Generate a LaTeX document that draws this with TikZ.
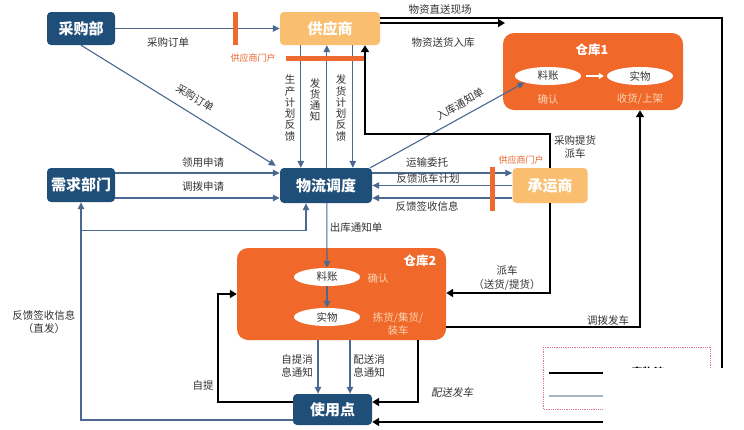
\documentclass[tikz,border=0pt]{standalone}
\usepackage{fontspec}
\newfontfamily\cjk{Noto Sans CJK SC}
\newfontfamily\cjksl{Noto Sans CJK SC}[FakeSlant=0.2]
\usetikzlibrary{arrows.meta,shapes.geometric,calc}
\definecolor{dblue}{HTML}{1F4E79}
\definecolor{lorange}{HTML}{F9BE6F}
\definecolor{wor}{HTML}{F0692B}
\definecolor{ibl}{HTML}{4A6890}
\definecolor{peach}{HTML}{FCD3B0}
\definecolor{obarc}{HTML}{EE6A30}
\definecolor{otext}{HTML}{E8642A}
\definecolor{tgray}{HTML}{333333}
\definecolor{legdash}{HTML}{E07888}
\definecolor{legline}{HTML}{A8B4C2}
\begin{document}
\begin{tikzpicture}[x=1pt,y=-1pt,
  box/.style={rounded corners=4pt, inner sep=0pt, text=white, font=\cjk\bfseries\fontsize{15}{18}\selectfont},
  dbox/.style={box, fill=dblue},
  lbox/.style={box, fill=lorange},
  wbox/.style={fill=wor, rounded corners=11pt, inner sep=0pt},
  info/.style={draw=ibl, line width=1.1pt, -{Triangle[length=7pt,width=6.5pt]}},
  phys/.style={draw=black, line width=2.6pt, -{Triangle[length=7pt,width=8pt]}},
  lbl/.style={font=\cjk\fontsize{10.5}{13.5}\selectfont, text=tgray, inner sep=1pt, align=center},
  vlbl/.style={font=\cjk\fontsize{10.5}{11.3}\selectfont, text=tgray, inner sep=0pt, align=center},
  olbl/.style={font=\cjk\fontsize{9}{10}\selectfont, text=otext, inner sep=0pt},
  plbl/.style={font=\cjk\fontsize{10.5}{13.5}\selectfont, text=peach, inner sep=0pt, align=center},
  ttl/.style={font=\cjk\bfseries\fontsize{12.5}{14}\selectfont, text=white, inner sep=0pt},
  ell/.style={ellipse, fill=white, minimum width=66pt, minimum height=18pt, inner sep=0pt, font=\cjk\fontsize{10.5}{12}\selectfont, text=tgray},
  obar/.style={draw=obarc, line width=5pt}]
\useasboundingbox (0,0) rectangle (744,429);
\fill[white] (0,0) rectangle (744,429);

% main nodes
\node[dbox, minimum width=68pt, minimum height=33pt] (cgb) at (81,28.5) {采购部};
\node[lbox, minimum width=100pt, minimum height=33pt] (gys) at (330,28.5) {供应商};
\node[dbox, minimum width=68pt, minimum height=34pt] (xq) at (81,185) {需求部门};
\node[dbox, minimum width=92pt, minimum height=35pt] (wl) at (326,185.5) {物流调度};
\node[lbox, minimum width=75pt, minimum height=35pt] (cys) at (550,185.5) {承运商};
\node[dbox, minimum width=79pt, minimum height=31pt] (syd) at (332.5,409.5) {使用点};

% warehouse 1
\node[wbox, minimum width=180pt, minimum height=77pt] (ck1) at (593,71.5) {};
\node[ttl] (t1) at (592,50) {仓库1};
\node[ell] (a1) at (548,76) {料账};
\node[ell] (b1) at (640,76) {实物};
\node[plbl] (c1) at (548,99) {确认};
\node[plbl] (d1) at (640,99) {收货/上架};
\draw[white, line width=1.6pt, -{Triangle[length=5pt,width=6pt]}] ([xshift=5pt]a1.east) -- ([xshift=-3pt]b1.west);

% warehouse 2
\node[wbox, minimum width=209pt, minimum height=92pt] (ck2) at (341.5,294) {};
\node[ttl] (t2) at (420,261) {仓库2};
\node[ell] (a2) at (327,277) {料账};
\node[ell] (b2) at (327,317) {实物};
\node[plbl] (c2) at (378,278) {确认};
\node[plbl] (d2) at (398,324) {拣货/集货/\\装车};
\draw[info] (a2.south) -- (b2.north);

% helper coordinates
\coordinate (zs) at (505,23);
\coordinate (rc) at (722,200);
\coordinate (tp) at (420,134);
\coordinate (zt) at (218,350);
\coordinate (br) at ($(xq.south)+(0,28)$);

% information flows
\draw[info] (cgb.east) -- (gys.west);
\draw[info] (cgb.south) -- ([xshift=-4pt,yshift=2pt]wl.north west);
\draw[info] ([xshift=21pt]gys.south west) -- ([xshift=21pt]wl.north west);
\draw[info] ([xshift=47pt]wl.north west) -- ([xshift=47pt]gys.south west);
\draw[info] ([xshift=73pt]gys.south west) -- ([xshift=73pt]wl.north west);
\draw[info] ([xshift=47pt]wl.south west) -- (a2.north);
\draw[info] ([xshift=-2pt]wl.north east) -- (a1.south west);
\draw[info] ([yshift=12.5pt]wl.east) -- ([yshift=12.5pt]cys.west);
\draw[info] (cys.west) -- (wl.east);
\draw[info] ([yshift=-12.5pt]cys.west) -- ([yshift=-12.5pt]wl.east);
\draw[info] ([yshift=12pt]xq.east) -- ([yshift=12pt]xq.east -| wl.west);
\draw[info] ([yshift=-13pt]xq.east) -- ([yshift=-13pt]xq.east -| wl.west);
\draw[info] ([yshift=-10.5pt]syd.west) -| (xq.south);
\draw[info] (br) -| ([xshift=-20pt]wl.south);
\draw[info] ([xshift=-23.5pt]ck2.south) -- ([xshift=-23.5pt]ck2.south |- syd.north);
\draw[info] ([xshift=8.5pt]ck2.south) -- ([xshift=8.5pt]ck2.south |- syd.north);

% physical flows
\draw[phys] ([yshift=5.5pt]gys.east) -- (zs);
\draw[phys] ([yshift=10.5pt]gys.east) -| (rc) |- ([yshift=-12.5pt]syd.east);
\draw[phys] (cys.north) |- (tp) -| ([xshift=35pt]gys.south);
\draw[phys] (cys.south) |- ([yshift=1pt]ck2.east);
\draw[phys] ([yshift=-33pt]ck2.east) -| (ck1.south -| b1);
\draw[phys] ([xshift=76.5pt]ck2.south) |- ([yshift=7.5pt]syd.east);
\draw[phys] ([yshift=7.5pt]syd.west) -| (zt) |- (ck2.west);

% supplier portal bars
\draw[obar] (235,12) -- (235,45);
\draw[obar] (286,58) -- (364,58);
\draw[obar] (492,167) -- (492,211);
\node[olbl] at (253,58) {供应商门户};
\node[olbl] at (521,160) {供应商门户};

% labels
\node[lbl] at (168,43) {采购订单};
\node[lbl, rotate=-32] at (195,98) {采购订单};
\node[vlbl] at (290,108) {生\\产\\计\\划\\反\\馈};
\node[vlbl] at (315,100) {发\\货\\通\\知};
\node[vlbl] at (341,108) {发\\货\\计\\划\\反\\馈};
\node[lbl] at (440,10) {物资直送现场};
\node[lbl] at (443,43) {物资送货入库};
\node[lbl, rotate=29] at (460,104) {入库通知单};
\node[lbl] at (575,147) {采购提货\\派车};
\node[lbl] at (427,163) {运输委托};
\node[lbl] at (428,179) {反馈派车计划};
\node[lbl] at (427,206) {反馈签收信息};
\node[lbl] at (203,163) {领用申请};
\node[lbl] at (203,187) {调拨申请};
\node[lbl] at (356,228) {出库通知单};
\node[lbl] at (44,322) {反馈签收信息\\（直发）};
\node[lbl] at (297,366) {自提消\\息通知};
\node[lbl] at (369,366) {配送消\\息通知};
\node[lbl] at (203,385) {自提};
\node[lbl, font=\cjksl\fontsize{10.5}{13.5}\selectfont] at (452,392) {配送发车};
\node[lbl] at (507,278) {派车\\（送货/提货）};
\node[lbl] at (608,320) {调拨发车};

% legend (partly covered by a white patch, as in the reference)
\draw[legdash, densely dotted, line width=0.8pt] (543,347) rectangle (710,409);
\draw[black, line width=2.6pt] (549,373) -- (603,373);
\draw[legline, line width=1.3pt] (549,396) -- (603,396);
\node[font=\cjk\bfseries\fontsize{11}{13}\selectfont, inner sep=0pt] at (648,372) {实物流};
\fill[white] (603,368) rectangle (744,429);
\end{tikzpicture}
\end{document}
